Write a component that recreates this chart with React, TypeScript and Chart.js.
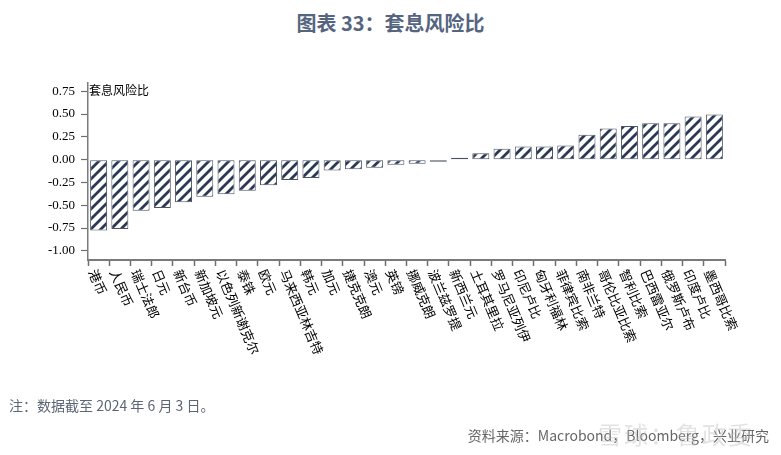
import React, { useEffect, useRef } from 'react';
import { Chart, registerables } from 'chart.js';

Chart.register(...registerables);

// 货币（按套息风险比从低到高排列）
const currencies = [
  '港币', '人民币', '瑞士法郎', '日元', '新台币', '新加坡元', '以色列新谢克尔', '泰铢',
  '欧元', '马来西亚林吉特', '韩元', '加元', '捷克克朗', '澳元', '英镑', '挪威克朗',
  '波兰兹罗提', '新西兰元', '土耳其里拉', '罗马尼亚列伊', '印尼卢比', '匈牙利福林',
  '菲律宾比索', '南非兰特', '哥伦比亚比索', '智利比索', '巴西雷亚尔', '俄罗斯卢布',
  '印度卢比', '墨西哥比索',
];

const carryRisk = [
  -0.776, -0.761, -0.56, -0.53, -0.468, -0.406, -0.38, -0.34,
  -0.282, -0.223, -0.2, -0.12, -0.106, -0.088, -0.055, -0.045,
  -0.008, 0.02, 0.07, 0.12, 0.145, 0.145,
  0.156, 0.274, 0.34, 0.369, 0.4, 0.4,
  0.474, 0.496,
];

const yTicks = [-1, -0.75, -0.5, -0.25, 0, 0.25, 0.5, 0.75];

const CJK = '"Noto Sans CJK SC", "Noto Sans", sans-serif';

// 斜线填充
const makeHatch = (ctx: CanvasRenderingContext2D) => {
  const size = 10;
  const tile = document.createElement('canvas');
  tile.width = size;
  tile.height = size;
  const p = tile.getContext('2d')!;
  p.fillStyle = '#ffffff';
  p.fillRect(0, 0, size, size);
  p.strokeStyle = '#2b3955';
  p.lineWidth = 2.8;
  p.beginPath();
  p.moveTo(-2, size + 2);
  p.lineTo(size + 2, -2);
  p.moveTo(-2, 2);
  p.lineTo(2, -2);
  p.moveTo(size - 2, size + 2);
  p.lineTo(size + 2, size - 2);
  p.stroke();
  return ctx.createPattern(tile, 'repeat');
};

// x 轴标签顺时针倾斜，另加左上角单位
const labelPlugin = {
  id: 'slantedLabels',
  afterDraw(chart: any) {
    const { ctx, chartArea } = chart;
    const x = chart.scales.x;
    ctx.save();
    ctx.fillStyle = '#000';
    ctx.font = `13px ${CJK}`;
    ctx.textAlign = 'left';
    ctx.textBaseline = 'middle';
    currencies.forEach((name, i) => {
      ctx.save();
      ctx.translate(x.getPixelForValue(i) - 6, chartArea.bottom + 10);
      ctx.rotate((67 * Math.PI) / 180);
      ctx.fillText(name, 0, 0);
      ctx.restore();
    });
    ctx.font = `12px ${CJK}`;
    ctx.fillText('套息风险比', chartArea.left + 1, chartArea.top + 7);
    ctx.restore();
  },
};

const CarryChart: React.FC = () => {
  const chartRef = useRef<HTMLCanvasElement>(null);
  const chartInstance = useRef<Chart | null>(null);

  useEffect(() => {
    if (!chartRef.current) return;
    const ctx = chartRef.current.getContext('2d');
    if (!ctx) return;

    chartInstance.current = new Chart(ctx, {
      type: 'bar',
      data: {
        labels: currencies,
        datasets: [
          {
            data: carryRisk,
            backgroundColor: makeHatch(ctx) as any,
            borderColor: '#4a5263',
            borderWidth: 1,
            borderSkipped: false,
            minBarLength: 2,
            barPercentage: 0.8,
            categoryPercentage: 1,
          },
        ],
      },
      options: {
        responsive: false,
        animation: false,
        layout: { padding: { left: 0, top: 83, right: 56, bottom: 0 } },
        plugins: {
          legend: { display: false },
          tooltip: { enabled: false },
        },
        scales: {
          x: {
            afterFit: (scale: any) => {
              scale.height = 195;
            },
            ticks: { display: false },
            grid: {
              drawOnChartArea: false,
              tickLength: 6,
              tickColor: '#6f6f6f',
              tickWidth: 1.5,
            },
            border: { color: '#7a7a7a', width: 2 },
          },
          y: {
            min: -1.1,
            max: 0.84,
            afterFit: (scale: any) => {
              scale.width = 88;
            },
            afterBuildTicks: (scale: any) => {
              scale.ticks = yTicks.map((v) => ({ value: v }));
            },
            ticks: {
              color: '#000',
              padding: 6,
              font: { family: '"Liberation Serif", serif', size: 13 },
              callback: (v: any) => Number(v).toFixed(2),
            },
            grid: {
              drawOnChartArea: false,
              tickLength: 7,
              tickColor: '#6f6f6f',
              tickWidth: 1.2,
            },
            border: { color: '#7a7a7a', width: 1.5 },
          },
        },
      },
      plugins: [labelPlugin],
    });

    return () => {
      if (chartInstance.current) {
        chartInstance.current.destroy();
        chartInstance.current = null;
      }
    };
  }, []);

  return <canvas ref={chartRef} width={781} height={455} style={{ position: 'absolute', left: 0, top: 0 }} />;
};

const App: React.FC = () => {
  return (
    <div
      style={{
        position: 'fixed',
        left: 0,
        top: 0,
        width: 781,
        height: 455,
        background: '#fff',
        overflow: 'hidden',
        fontFamily: CJK,
      }}
    >
      <div
        style={{
          position: 'absolute',
          top: 9,
          left: 0,
          width: 781,
          textAlign: 'center',
          fontSize: 20,
          fontWeight: 700,
          color: '#56657f',
          lineHeight: '28px',
        }}
      >
        图表 33：套息风险比
      </div>
      <CarryChart />
      <div style={{ position: 'absolute', left: 9, top: 395, fontSize: 14, color: '#5d6676', lineHeight: '20px' }}>
        注：数据截至 2024 年 6 月 3 日。
      </div>
      <div style={{ position: 'absolute', right: 12, top: 425, fontSize: 14, color: '#666', lineHeight: '20px' }}>
        资料来源：Macrobond，Bloomberg，兴业研究
      </div>
      <div
        style={{
          position: 'absolute',
          left: 598,
          top: 419,
          fontSize: 24,
          color: 'rgba(190,190,190,0.45)',
          lineHeight: '30px',
          letterSpacing: 2,
        }}
      >
        雪球：鲁政委
      </div>
    </div>
  );
};

export default App;
